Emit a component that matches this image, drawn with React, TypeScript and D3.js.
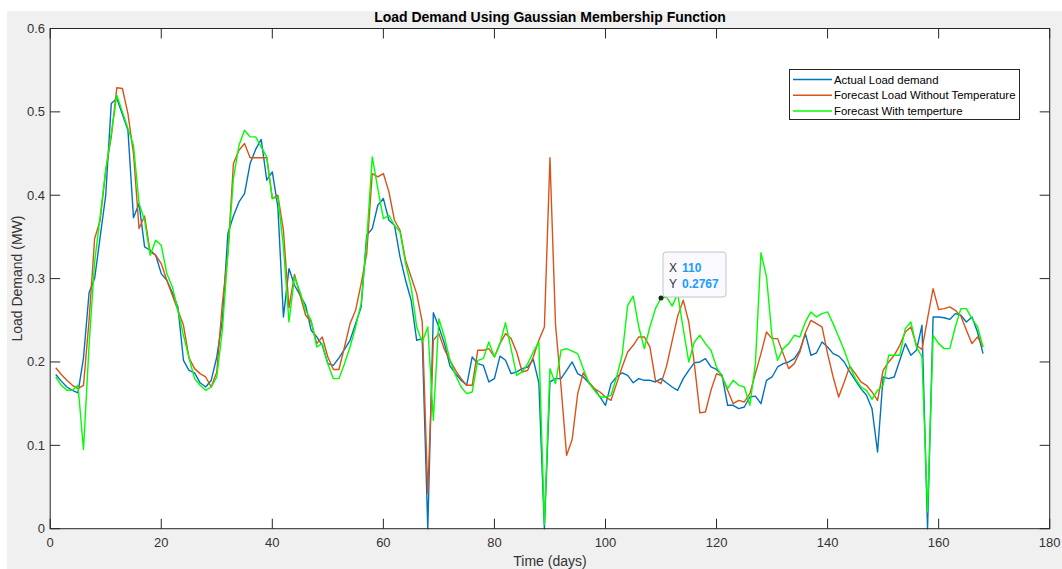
import React from "react";
import * as d3 from "d3";

const days: number[] = Array.from({ length: 168 }, (_, i) => i + 1);

const actual: number[] = [
  0.185, 0.177, 0.170, 0.166, 0.163, 0.205, 0.283, 0.300, 0.350, 0.400,
  0.510, 0.516, 0.497, 0.478, 0.373, 0.390, 0.338, 0.334, 0.328, 0.306,
  0.298, 0.283, 0.266, 0.202, 0.190, 0.187, 0.175, 0.170, 0.178, 0.206,
  0.250, 0.354, 0.375, 0.392, 0.402, 0.438, 0.455, 0.467, 0.418, 0.428,
  0.386, 0.254, 0.312, 0.292, 0.280, 0.268, 0.238, 0.230, 0.220, 0.198,
  0.196, 0.205, 0.215, 0.226, 0.246, 0.266, 0.352, 0.360, 0.388, 0.396,
  0.370, 0.364, 0.326, 0.298, 0.274, 0.226, 0.228, 0.000, 0.259, 0.242,
  0.222, 0.195, 0.186, 0.178, 0.172, 0.206, 0.198, 0.196, 0.176, 0.180,
  0.207, 0.202, 0.186, 0.188, 0.192, 0.194, 0.203, 0.175, 0.000, 0.176,
  0.180, 0.180, 0.190, 0.200, 0.186, 0.182, 0.175, 0.168, 0.158, 0.148,
  0.174, 0.182, 0.187, 0.184, 0.175, 0.180, 0.178, 0.178, 0.176, 0.180,
  0.175, 0.170, 0.166, 0.180, 0.190, 0.199, 0.200, 0.204, 0.194, 0.191,
  0.184, 0.148, 0.148, 0.144, 0.146, 0.158, 0.159, 0.150, 0.178, 0.182,
  0.194, 0.198, 0.200, 0.204, 0.214, 0.234, 0.208, 0.211, 0.224, 0.218,
  0.210, 0.207, 0.200, 0.188, 0.178, 0.168, 0.160, 0.144, 0.092, 0.182,
  0.180, 0.182, 0.202, 0.222, 0.208, 0.214, 0.244, 0.000, 0.254, 0.254,
  0.253, 0.251, 0.258, 0.256, 0.248, 0.254, 0.236, 0.210,
];

const forecastNoTemp: number[] = [
  0.193, 0.185, 0.178, 0.172, 0.168, 0.172, 0.250, 0.348, 0.370, 0.430,
  0.470, 0.529, 0.528, 0.498, 0.450, 0.360, 0.375, 0.332, 0.328, 0.318,
  0.298, 0.280, 0.262, 0.244, 0.205, 0.192, 0.186, 0.182, 0.170, 0.188,
  0.270, 0.330, 0.438, 0.454, 0.462, 0.445, 0.445, 0.445, 0.445, 0.396,
  0.400, 0.358, 0.265, 0.305, 0.280, 0.256, 0.248, 0.222, 0.230, 0.206,
  0.191, 0.191, 0.218, 0.246, 0.262, 0.294, 0.330, 0.426, 0.422, 0.426,
  0.404, 0.370, 0.358, 0.322, 0.302, 0.282, 0.248, 0.042, 0.226, 0.234,
  0.215, 0.202, 0.190, 0.180, 0.172, 0.172, 0.214, 0.214, 0.216, 0.206,
  0.222, 0.234, 0.228, 0.212, 0.188, 0.190, 0.206, 0.226, 0.242, 0.445,
  0.245, 0.170, 0.088, 0.107, 0.162, 0.187, 0.176, 0.168, 0.164, 0.158,
  0.154, 0.174, 0.194, 0.212, 0.220, 0.230, 0.230, 0.218, 0.178, 0.174,
  0.195, 0.225, 0.255, 0.274, 0.248, 0.198, 0.139, 0.140, 0.166, 0.186,
  0.183, 0.166, 0.150, 0.154, 0.152, 0.162, 0.186, 0.210, 0.236, 0.228,
  0.228, 0.210, 0.192, 0.198, 0.212, 0.235, 0.250, 0.246, 0.242, 0.210,
  0.182, 0.158, 0.176, 0.195, 0.186, 0.176, 0.172, 0.164, 0.154, 0.190,
  0.200, 0.208, 0.220, 0.236, 0.242, 0.220, 0.215, 0.252, 0.288, 0.263,
  0.264, 0.266, 0.262, 0.255, 0.238, 0.222, 0.230, 0.218,
];

const forecastWithTemp: number[] = [
  0.182, 0.172, 0.166, 0.166, 0.172, 0.095, 0.220, 0.320, 0.375, 0.430,
  0.474, 0.520, 0.500, 0.480, 0.460, 0.390, 0.370, 0.328, 0.346, 0.340,
  0.306, 0.290, 0.262, 0.232, 0.205, 0.180, 0.172, 0.166, 0.170, 0.182,
  0.238, 0.330, 0.420, 0.460, 0.478, 0.470, 0.470, 0.458, 0.446, 0.396,
  0.398, 0.338, 0.248, 0.302, 0.284, 0.262, 0.250, 0.218, 0.222, 0.198,
  0.180, 0.180, 0.198, 0.218, 0.242, 0.270, 0.346, 0.446, 0.408, 0.372,
  0.376, 0.364, 0.356, 0.318, 0.290, 0.242, 0.224, 0.242, 0.130, 0.252,
  0.230, 0.202, 0.184, 0.170, 0.162, 0.164, 0.202, 0.204, 0.224, 0.206,
  0.222, 0.247, 0.216, 0.184, 0.188, 0.198, 0.212, 0.224, 0.005, 0.192,
  0.174, 0.214, 0.216, 0.213, 0.210, 0.192, 0.175, 0.166, 0.158, 0.158,
  0.160, 0.182, 0.208, 0.268, 0.279, 0.242, 0.216, 0.242, 0.264, 0.2767,
  0.278, 0.267, 0.282, 0.240, 0.200, 0.224, 0.232, 0.222, 0.214, 0.194,
  0.182, 0.168, 0.178, 0.172, 0.170, 0.148, 0.198, 0.331, 0.302, 0.230,
  0.202, 0.216, 0.222, 0.232, 0.230, 0.248, 0.260, 0.254, 0.258, 0.260,
  0.246, 0.230, 0.214, 0.195, 0.180, 0.170, 0.166, 0.155, 0.166, 0.172,
  0.208, 0.208, 0.208, 0.240, 0.248, 0.218, 0.206, 0.020, 0.232, 0.222,
  0.216, 0.216, 0.242, 0.264, 0.264, 0.252, 0.242, 0.218,
];

const xTicks: number[] = [0, 20, 40, 60, 80, 100, 120, 140, 160, 180];
const yTicks: number[] = [0, 0.1, 0.2, 0.3, 0.4, 0.5, 0.6];
const seriesNames: string[] = [
  "Actual Load demand",
  "Forecast Load Without Temperature",
  "Forecast With temperture",
];
const seriesColors: string[] = ["#0072BD", "#D95319", "#00FF00"];
const tipX = 110;
const tipY = 0.2767;

const W = 1062;
const H = 569;
const L = 50.2;
const R = 1049.7;
const T = 28.5;
const B = 528.7;
const FONT = "'Liberation Sans', Arial, Helvetica, sans-serif";
const AX = "#262626";

export default function App() {
  const x = d3.scaleLinear().domain([0, 180]).range([L, R]);
  const y = d3.scaleLinear().domain([0, 0.6]).range([B, T]);
  const all = [actual, forecastNoTemp, forecastWithTemp];
  const line = d3
    .line<number>()
    .x((_, i) => x(days[i]))
    .y((d) => y(d));

  const tipPx = x(tipX);
  const tipPy = y(tipY);

  return (
    <div style={{ position: "absolute", left: 0, top: 0 }}>
      <svg width={W} height={H} style={{ display: "block" }}>
        <rect x={0} y={0} width={W} height={H} fill="#ffffff" />
        <rect x={7} y={11} width={W - 7} height={H - 11} fill="#f0f0f0" />
        <rect x={L} y={T} width={R - L} height={B - T} fill="#ffffff" />
        <defs>
          <clipPath id="plotclip">
            <rect x={L} y={T - 2} width={R - L} height={B - T + 4} />
          </clipPath>
        </defs>
        <g clipPath="url(#plotclip)">
          {all.map((s, k) => (
            <path
              key={k}
              d={line(s) || ""}
              fill="none"
              stroke={seriesColors[k]}
              strokeWidth={1.4}
              strokeLinejoin="round"
            />
          ))}
        </g>
        <rect x={L} y={T} width={R - L} height={B - T} fill="none" stroke={AX} strokeWidth={1} />
        {xTicks.map((t) => (
          <g key={"x" + t}>
            <line x1={x(t)} x2={x(t)} y1={B} y2={B - 10} stroke={AX} />
            <line x1={x(t)} x2={x(t)} y1={T} y2={T + 10} stroke={AX} />
            <text
              x={x(t)}
              y={547}
              textAnchor="middle"
              fontFamily={FONT}
              fontSize={13}
              fill="#333"
            >
              {t}
            </text>
          </g>
        ))}
        {yTicks.map((t) => (
          <g key={"y" + t}>
            <line x1={L} x2={L + 10} y1={y(t)} y2={y(t)} stroke={AX} />
            <line x1={R} x2={R - 10} y1={y(t)} y2={y(t)} stroke={AX} />
            <text
              x={45}
              y={y(t) + 4.5}
              textAnchor="end"
              fontFamily={FONT}
              fontSize={13}
              fill="#333"
            >
              {t === 0 ? "0" : t.toFixed(1)}
            </text>
          </g>
        ))}
        <text
          x={(L + R) / 2}
          y={22}
          textAnchor="middle"
          fontFamily={FONT}
          fontSize={14}
          fontWeight="bold"
          fill="#000"
        >
          Load Demand Using Gaussian Membership Function
        </text>
        <text
          x={(L + R) / 2}
          y={566}
          textAnchor="middle"
          fontFamily={FONT}
          fontSize={14}
          fill="#333"
        >
          Time (days)
        </text>
        <text
          transform={`translate(22, ${(T + B) / 2}) rotate(-90)`}
          textAnchor="middle"
          fontFamily={FONT}
          fontSize={14}
          fill="#333"
        >
          Load Demand (MW)
        </text>
        <rect x={789.5} y={69.5} width={230} height={50} fill="#fff" stroke={AX} strokeWidth={1} />
        {seriesNames.map((n, k) => (
          <g key={n}>
            <line
              x1={793}
              x2={832}
              y1={79.5 + k * 15.7}
              y2={79.5 + k * 15.7}
              stroke={seriesColors[k]}
              strokeWidth={1.5}
            />
            <text
              x={834}
              y={83.5 + k * 15.7}
              fontFamily={FONT}
              fontSize={11.4}
              fill="#000"
            >
              {n}
            </text>
          </g>
        ))}
        <rect
          x={tipPx + 2}
          y={tipPy - 46}
          width={63}
          height={45}
          rx={3}
          fill="#f9f9ff"
          stroke="#c6c6c6"
          strokeWidth={1}
        />
        <text x={tipPx + 8} y={tipPy - 26} fontFamily={FONT} fontSize={12} fill="#333">
          X
        </text>
        <text
          x={tipPx + 21}
          y={tipPy - 26}
          fontFamily={FONT}
          fontSize={12}
          fontWeight="bold"
          fill="#1a9bff"
        >
          {tipX}
        </text>
        <text x={tipPx + 8} y={tipPy - 10} fontFamily={FONT} fontSize={12} fill="#333">
          Y
        </text>
        <text
          x={tipPx + 21}
          y={tipPy - 10}
          fontFamily={FONT}
          fontSize={12}
          fontWeight="bold"
          fill="#1a9bff"
        >
          {tipY.toFixed(4)}
        </text>
        <circle cx={tipPx} cy={tipPy} r={2.5} fill="#222" />
      </svg>
    </div>
  );
}
